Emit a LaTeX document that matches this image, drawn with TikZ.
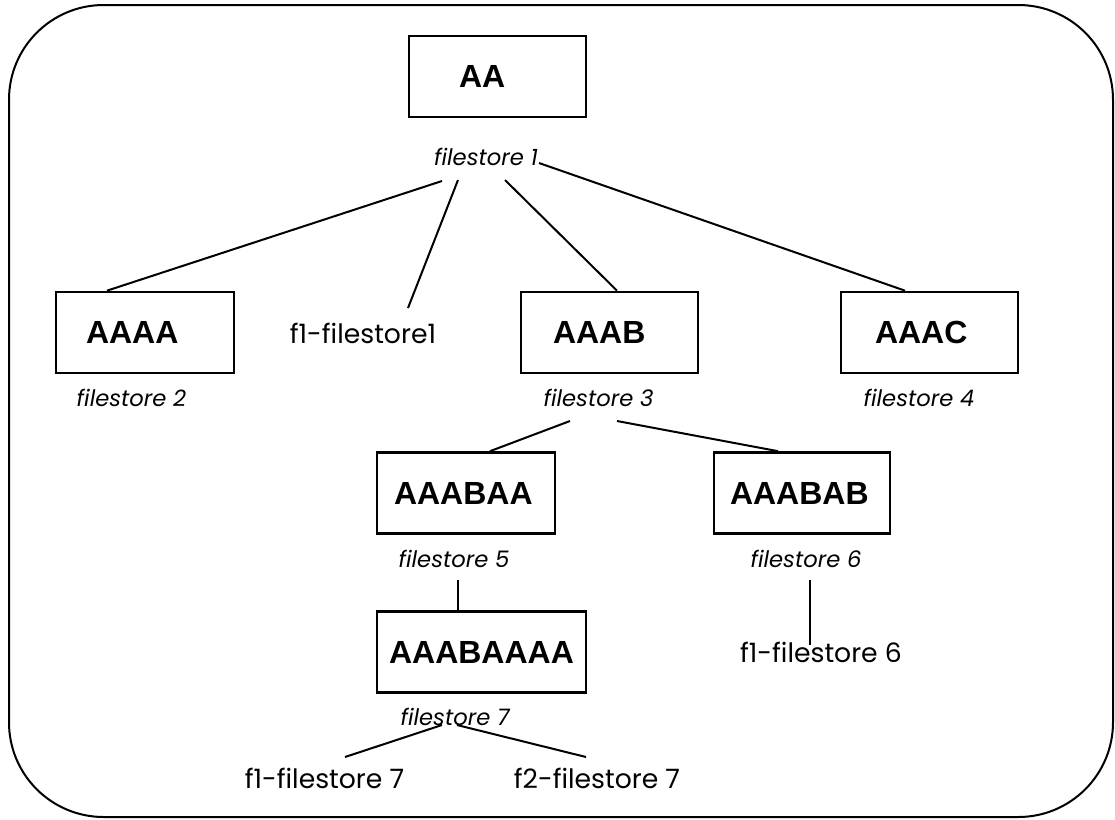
\documentclass[tikz,border=0pt]{standalone}
\usepackage{fontspec}
\setmainfont{Poppins}
\newfontfamily\boxfont{Liberation Sans}
\usetikzlibrary{calc}

\tikzset{
  box/.style={draw, line width=2pt, minimum height=60.75pt, inner xsep=0pt,
    align=left, font=\boxfont\bfseries\fontsize{24}{28}\selectfont},
  fsname/.style={anchor=base, inner sep=0pt, font=\itshape\fontsize{17}{20}\selectfont},
  fname/.style={anchor=base, inner sep=0pt, font=\fontsize{20}{24}\selectfont},
  link/.style={line width=1.5pt}
}

\begin{document}
\begin{tikzpicture}[x=0.75pt, y=-0.75pt]
    \useasboundingbox (0,0) rectangle (1115,819);
    \draw[line width=1.5pt, rounded corners=71pt] (9,5) rectangle (1113,817);

    % directory boxes
    \node[box, minimum width=132.75pt, text width=57.75pt] (aa) at (497.5,76.5) {AA};
    \node[box, minimum width=133.5pt, text width=88.5pt] (aaaa) at (145,332.5) {AAAA};
    \node[box, minimum width=132.75pt, text width=84.75pt] (aaab) at (609.5,332.5) {AAAB};
    \node[box, minimum width=132.75pt, text width=81.75pt] (aaac) at (929.5,332.5) {AAAC};
    \node[box, minimum width=133.5pt, text width=108pt] (aaabaa) at (466,493) {AAABAA};
    \node[box, minimum width=132pt, text width=108pt] (aaabab) at (802,493) {AAABAB};
    \node[box, minimum width=156.75pt] (aaabaaaa) at (481.5,652) {AAABAAAA};

    % filestores
    \node[fsname] (fs1) at (486,165) {filestore 1};
    \node[fsname] (fs2) at (131.5,406) {filestore 2};
    \node[fsname] (fs3) at (598.5,406) {filestore 3};
    \node[fsname] (fs4) at (919,406) {filestore 4};
    \node[fsname] (fs5) at (454,567) {filestore 5};
    \node[fsname] (fs6) at (806,567) {filestore 6};
    \node[fsname] (fs7) at (455,725) {filestore 7};

    % files
    \node[fname] (f1fs1) at (363,343) {f1-filestore1};
    \node[fname] (f1fs6) at (821,662) {f1-filestore 6};
    \node[fname] (f1fs7) at (324.5,788) {f1-filestore 7};
    \node[fname] (f2fs7) at (597,788) {f2-filestore 7};

    \draw[link] ($(fs1.base)+(-44,16)$) -- ($(aaaa.north)+(-38,0)$);
    \draw[link] ($(fs1.base)+(-28,15)$) -- ($(f1fs1.base)+(45,-35)$);
    \draw[link] ($(fs1.base)+(19,15)$) -- ($(aaab.north)+(7.5,0)$);
    \draw[link] ($(fs1.base)+(53,-2)$) -- ($(aaac.north)+(-24.5,0)$);
    \draw[link] ($(fs3.base)+(-28.5,15)$) -- ($(aaabaa.north)+(24,0)$);
    \draw[link] ($(fs3.base)+(18.5,15)$) -- ($(aaabab.north)+(-24,0)$);
    \draw[link] ($(fs5.base)+(3.5,13)$) -- ($(aaabaaaa.north)+(-24,0)$);
    \draw[link] ($(fs6.base)+(3.5,13)$) -- ($(f1fs6.base)+(-11.5,-17)$);
    \draw[link] ($(fs7.base)+(-13,0)$) -- ($(f1fs7.base)+(20.5,-31)$);
    \draw[link] ($(fs7.base)+(2,0)$) -- ($(f2fs7.base)+(-11,-31)$);
\end{tikzpicture}
\end{document}
